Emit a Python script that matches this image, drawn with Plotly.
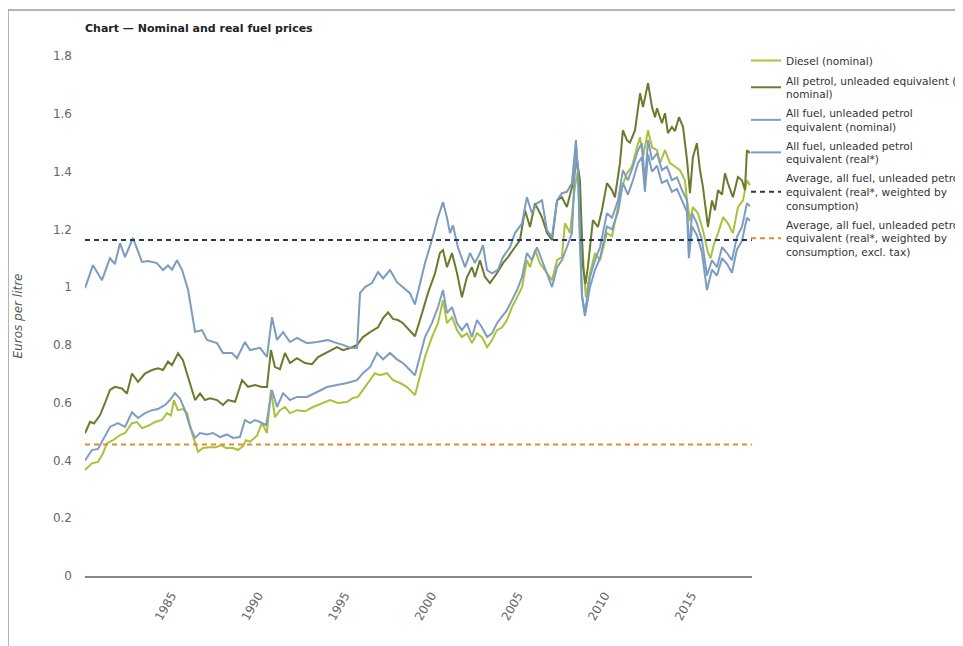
import plotly.graph_objects as go

# ---------------- data ----------------
diesel_years = [1980.00, 1980.40, 1980.75, 1981.04, 1981.27, 1981.62, 1982.02, 1982.31, 1982.71, 1983.00,
                1983.29, 1983.64, 1984.04, 1984.44, 1984.73, 1984.96, 1985.13, 1985.36, 1985.65, 1985.89,
                1986.17, 1986.52, 1986.81, 1987.15, 1987.56, 1987.85, 1988.14, 1988.54, 1988.83, 1989.12,
                1989.29, 1989.52, 1989.92, 1990.21, 1990.50, 1990.73, 1990.96, 1991.25, 1991.54, 1991.83,
                1992.23, 1992.69, 1993.16, 1993.68, 1994.14, 1994.60, 1995.12, 1995.46, 1995.75, 1996.04,
                1996.33, 1996.73, 1997.02, 1997.43, 1997.77, 1998.18, 1998.58, 1998.93, 1999.04, 1999.62,
                2000.02, 2000.37, 2000.66, 2000.89, 2001.18, 2001.47, 2001.75, 2002.04, 2002.33, 2002.62,
                2002.91, 2003.20, 2003.49, 2003.77, 2004.06, 2004.35, 2004.64, 2004.93, 2005.22, 2005.50,
                2005.68, 2005.97, 2006.25, 2006.66, 2006.95, 2007.24, 2007.52, 2007.70, 2007.99, 2008.27,
                2008.45, 2008.62, 2008.90, 2009.14, 2009.43, 2009.72, 2010.12, 2010.41, 2010.70, 2010.99,
                2011.27, 2011.56, 2011.85, 2012.03, 2012.20, 2012.49, 2012.72, 2013.01, 2013.18, 2013.47,
                2013.76, 2014.04, 2014.33, 2014.62, 2014.74, 2014.91, 2015.08, 2015.37, 2015.66, 2015.95,
                2016.10, 2016.30, 2016.53, 2016.82, 2017.10, 2017.39, 2017.68, 2017.97, 2018.20, 2018.37]
diesel_values = [0.367, 0.390, 0.395, 0.425, 0.460, 0.470, 0.488, 0.495, 0.529, 0.533,
                 0.512, 0.520, 0.533, 0.540, 0.564, 0.556, 0.609, 0.574, 0.578, 0.564,
                 0.495, 0.430, 0.443, 0.446, 0.446, 0.453, 0.443, 0.443, 0.436, 0.450,
                 0.470, 0.465, 0.485, 0.529, 0.495, 0.644, 0.550, 0.574, 0.585, 0.564,
                 0.574, 0.570, 0.585, 0.599, 0.609, 0.599, 0.602, 0.616, 0.620, 0.644,
                 0.668, 0.702, 0.695, 0.702, 0.678, 0.668, 0.654, 0.633, 0.626, 0.758,
                 0.827, 0.875, 0.955, 0.875, 0.896, 0.851, 0.827, 0.840, 0.806, 0.840,
                 0.827, 0.792, 0.817, 0.851, 0.860, 0.886, 0.931, 0.965, 1.000, 1.093,
                 1.069, 1.128, 1.083, 1.048, 1.024, 1.093, 1.104, 1.221, 1.187, 1.346,
                 1.405, 1.208, 0.965, 1.048, 1.118, 1.093, 1.187, 1.176, 1.256, 1.346,
                 1.394, 1.417, 1.484, 1.519, 1.450, 1.543, 1.484, 1.474, 1.429, 1.474,
                 1.429, 1.417, 1.405, 1.370, 1.300, 1.230, 1.277, 1.256, 1.197, 1.120,
                 1.100, 1.150, 1.187, 1.242, 1.221, 1.187, 1.277, 1.300, 1.370, 1.353]

petrol_years = [1980.00, 1980.29, 1980.52, 1980.87, 1981.15, 1981.44, 1981.73, 1982.13, 1982.42, 1982.71,
                1983.06, 1983.46, 1983.87, 1984.21, 1984.50, 1984.79, 1985.02, 1985.37, 1985.65, 1985.94,
                1986.35, 1986.64, 1986.92, 1987.21, 1987.62, 1987.96, 1988.25, 1988.66, 1989.06, 1989.41,
                1989.81, 1990.21, 1990.50, 1990.73, 1990.96, 1991.25, 1991.54, 1991.83, 1992.23, 1992.69,
                1993.10, 1993.45, 1993.97, 1994.54, 1994.89, 1995.29, 1995.70, 1996.04, 1996.45, 1996.91,
                1997.20, 1997.49, 1997.77, 1998.06, 1998.35, 1998.75, 1999.04, 1999.45, 1999.79, 2000.20,
                2000.48, 2000.66, 2000.89, 2001.18, 2001.47, 2001.75, 2002.04, 2002.33, 2002.50, 2002.79,
                2003.08, 2003.37, 2003.77, 2004.12, 2004.41, 2004.81, 2005.10, 2005.39, 2005.68, 2005.97,
                2006.37, 2006.66, 2006.95, 2007.24, 2007.52, 2007.81, 2008.10, 2008.39, 2008.56, 2008.74,
                2008.88, 2009.02, 2009.14, 2009.31, 2009.60, 2009.83, 2010.12, 2010.41, 2010.58, 2010.87,
                2011.04, 2011.27, 2011.45, 2011.74, 2012.03, 2012.20, 2012.49, 2012.72, 2012.89, 2013.01,
                2013.29, 2013.47, 2013.64, 2013.87, 2014.04, 2014.28, 2014.51, 2014.74, 2014.91, 2015.08,
                2015.31, 2015.49, 2015.66, 2015.95, 2016.18, 2016.35, 2016.53, 2016.76, 2016.93, 2017.10,
                2017.39, 2017.68, 2017.91, 2018.08, 2018.20, 2018.37]
petrol_values = [0.494, 0.534, 0.528, 0.557, 0.598, 0.644, 0.655, 0.649, 0.632, 0.701,
                 0.672, 0.701, 0.713, 0.719, 0.713, 0.742, 0.730, 0.771, 0.747, 0.690,
                 0.609, 0.632, 0.609, 0.615, 0.609, 0.592, 0.609, 0.603, 0.678, 0.655,
                 0.661, 0.654, 0.654, 0.782, 0.723, 0.716, 0.772, 0.737, 0.754, 0.737,
                 0.733, 0.758, 0.775, 0.792, 0.782, 0.789, 0.800, 0.827, 0.844, 0.861,
                 0.893, 0.913, 0.890, 0.886, 0.875, 0.851, 0.830, 0.910, 0.979, 1.048,
                 1.118, 1.128, 1.069, 1.118, 1.048, 0.965, 1.035, 1.069, 1.035, 1.093,
                 1.035, 1.014, 1.048, 1.083, 1.104, 1.138, 1.163, 1.266, 1.208, 1.290,
                 1.242, 1.187, 1.163, 1.300, 1.311, 1.277, 1.346, 1.440, 1.370, 1.069,
                 1.010, 1.070, 1.138, 1.232, 1.208, 1.266, 1.360, 1.336, 1.311, 1.429,
                 1.543, 1.509, 1.500, 1.543, 1.671, 1.623, 1.706, 1.623, 1.588, 1.619,
                 1.567, 1.602, 1.533, 1.554, 1.540, 1.588, 1.554, 1.440, 1.325, 1.450,
                 1.498, 1.405, 1.346, 1.208, 1.300, 1.266, 1.336, 1.320, 1.394, 1.360,
                 1.311, 1.381, 1.370, 1.336, 1.474, 1.464]

fuel_nominal_years = [1980.00, 1980.40, 1980.75, 1981.04, 1981.44, 1981.90, 1982.31, 1982.71, 1983.06, 1983.46,
                      1983.87, 1984.21, 1984.62, 1984.90, 1985.19, 1985.48, 1985.77, 1986.06, 1986.35, 1986.64,
                      1987.04, 1987.39, 1987.79, 1988.19, 1988.54, 1988.94, 1989.23, 1989.52, 1989.81, 1990.10,
                      1990.45, 1990.79, 1991.08, 1991.43, 1991.83, 1992.23, 1992.81, 1993.39, 1993.97, 1994.54,
                      1995.12, 1995.70, 1996.04, 1996.45, 1996.85, 1997.20, 1997.60, 1998.00, 1998.35, 1998.75,
                      1999.04, 1999.62, 2000.02, 2000.37, 2000.66, 2000.89, 2001.18, 2001.47, 2001.75, 2002.04,
                      2002.33, 2002.62, 2002.91, 2003.20, 2003.49, 2003.77, 2004.06, 2004.35, 2004.64, 2004.93,
                      2005.22, 2005.50, 2005.79, 2006.08, 2006.37, 2006.66, 2006.95, 2007.24, 2007.52, 2007.81,
                      2008.10, 2008.33, 2008.45, 2008.56, 2008.68, 2008.85, 2009.14, 2009.43, 2009.72, 2010.12,
                      2010.41, 2010.76, 2011.04, 2011.33, 2011.62, 2011.91, 2012.14, 2012.31, 2012.49, 2012.72,
                      2013.01, 2013.29, 2013.58, 2013.87, 2014.16, 2014.45, 2014.74, 2014.85, 2015.03, 2015.31,
                      2015.60, 2015.89, 2016.18, 2016.47, 2016.76, 2017.05, 2017.33, 2017.62, 2017.91, 2018.20,
                      2018.37]
fuel_nominal_values = [0.400, 0.436, 0.440, 0.470, 0.516, 0.529, 0.516, 0.567, 0.547, 0.564,
                       0.574, 0.578, 0.592, 0.609, 0.633, 0.614, 0.574, 0.516, 0.478, 0.495,
                       0.490, 0.495, 0.481, 0.490, 0.478, 0.481, 0.540, 0.529, 0.540, 0.533,
                       0.522, 0.644, 0.585, 0.633, 0.609, 0.620, 0.620, 0.637, 0.654, 0.661,
                       0.668, 0.678, 0.702, 0.723, 0.772, 0.750, 0.772, 0.750, 0.737, 0.713,
                       0.695, 0.827, 0.875, 0.931, 0.990, 0.910, 0.931, 0.875, 0.851, 0.875,
                       0.827, 0.886, 0.860, 0.827, 0.840, 0.875, 0.896, 0.920, 0.955, 0.990,
                       1.035, 1.118, 1.093, 1.138, 1.093, 1.048, 1.000, 1.069, 1.093, 1.138,
                       1.187, 1.490, 1.400, 1.150, 0.970, 0.910, 1.035, 1.093, 1.138, 1.256,
                       1.240, 1.300, 1.405, 1.370, 1.417, 1.474, 1.498, 1.360, 1.509, 1.440,
                       1.464, 1.405, 1.417, 1.370, 1.380, 1.336, 1.300, 1.118, 1.256, 1.221,
                       1.163, 1.040, 1.093, 1.069, 1.138, 1.118, 1.093, 1.173, 1.208, 1.290,
                       1.280]

fuel_real_years = [1980.00, 1980.46, 1980.98, 1981.44, 1981.73, 1982.02, 1982.31, 1982.77, 1983.29, 1983.64,
                   1984.15, 1984.50, 1984.79, 1985.02, 1985.31, 1985.60, 1985.95, 1986.15, 1986.35, 1986.75,
                   1987.04, 1987.62, 1987.96, 1988.48, 1988.77, 1989.23, 1989.52, 1990.10, 1990.50, 1990.79,
                   1991.08, 1991.43, 1991.83, 1992.23, 1992.81, 1993.39, 1994.02, 1994.54, 1994.89, 1995.29,
                   1995.70, 1995.87, 1996.16, 1996.56, 1996.91, 1997.20, 1997.60, 1998.00, 1998.35, 1998.75,
                   1999.04, 1999.30, 1999.62, 2000.02, 2000.37, 2000.66, 2000.89, 2001.06, 2001.23, 2001.52,
                   2001.93, 2002.22, 2002.50, 2002.79, 2002.97, 2003.20, 2003.49, 2003.83, 2004.12, 2004.52,
                   2004.81, 2005.22, 2005.50, 2005.79, 2006.08, 2006.37, 2006.66, 2006.95, 2007.24, 2007.52,
                   2007.81, 2008.10, 2008.33, 2008.45, 2008.56, 2008.68, 2008.85, 2009.14, 2009.43, 2009.72,
                   2010.12, 2010.41, 2010.76, 2011.04, 2011.33, 2011.62, 2011.91, 2012.14, 2012.31, 2012.49,
                   2012.72, 2013.01, 2013.29, 2013.58, 2013.87, 2014.16, 2014.45, 2014.74, 2014.85, 2015.03,
                   2015.31, 2015.60, 2015.89, 2016.18, 2016.47, 2016.76, 2017.05, 2017.33, 2017.62, 2017.91,
                   2018.20, 2018.37]
fuel_real_values = [0.996, 1.076, 1.024, 1.100, 1.080, 1.152, 1.104, 1.170, 1.087, 1.090,
                    1.083, 1.059, 1.075, 1.060, 1.093, 1.060, 0.990, 0.920, 0.845, 0.851,
                    0.817, 0.806, 0.772, 0.772, 0.754, 0.810, 0.782, 0.790, 0.758, 0.896,
                    0.817, 0.844, 0.810, 0.824, 0.806, 0.810, 0.817, 0.806, 0.800, 0.790,
                    0.789, 0.979, 1.000, 1.014, 1.052, 1.030, 1.059, 1.017, 1.000, 0.979,
                    0.940, 1.000, 1.083, 1.163, 1.242, 1.294, 1.240, 1.187, 1.214, 1.138,
                    1.069, 1.118, 1.083, 1.118, 1.145, 1.059, 1.048, 1.060, 1.104, 1.138,
                    1.187, 1.221, 1.311, 1.256, 1.290, 1.300, 1.197, 1.173, 1.300, 1.325,
                    1.330, 1.360, 1.509, 1.400, 1.150, 0.970, 0.900, 1.000, 1.060, 1.100,
                    1.210, 1.200, 1.260, 1.360, 1.320, 1.370, 1.430, 1.450, 1.330, 1.460,
                    1.400, 1.420, 1.360, 1.370, 1.330, 1.340, 1.300, 1.260, 1.100, 1.210,
                    1.180, 1.120, 0.990, 1.060, 1.040, 1.100, 1.080, 1.050, 1.130, 1.160,
                    1.240, 1.230]

avg_years = [1980.0, 2018.49]
avg_real_weighted = [1.163, 1.163]
avg_real_excl_tax = [0.455, 0.455]

x_tick_values = [1985, 1990, 1995, 2000, 2005, 2010, 2015]
x_tick_labels = ["1985", "1990", "1995", "2000", "2005", "2010", "2015"]
y_tick_values = [0, 0.2, 0.4, 0.6, 0.8, 1.0, 1.2, 1.4, 1.6, 1.8]
y_tick_labels = ["0", "0.2", "0.4", "0.6", "0.8", "1", "1.2", "1.4", "1.6", "1.8"]

names = [
    "Diesel (nominal)",
    "All petrol, unleaded equivalent (<br>nominal)",
    "All fuel, unleaded petrol<br>equivalent (nominal)",
    "All fuel, unleaded petrol<br>equivalent (real*)",
    "Average, all fuel, unleaded petrol<br>equivalent (real*, weighted by<br>consumption)",
    "Average, all fuel, unleaded petrol<br>equivalent (real*, weighted by<br>consumption, excl. tax)",
]

FONT = "DejaVu Sans"
# the page body has an 8px default margin; figure is laid out to compensate
W, H = 955, 638
PL, PR, PT, PB = 77, 744, 48, 568   # plot area in figure pixels

fig = go.Figure()
fig.add_trace(go.Scatter(x=diesel_years, y=diesel_values, mode="lines", name=names[0], legendgroup="a",
                         line=dict(color="#a9c23a", width=2)))
fig.add_trace(go.Scatter(x=petrol_years, y=petrol_values, mode="lines", name=names[1], legendgroup="b",
                         line=dict(color="#6b7a2c", width=2)))
fig.add_trace(go.Scatter(x=fuel_nominal_years, y=fuel_nominal_values, mode="lines", name=names[2], legendgroup="c",
                         line=dict(color="#7f9dbf", width=2)))
fig.add_trace(go.Scatter(x=fuel_real_years, y=fuel_real_values, mode="lines", name=names[3], legendgroup="d",
                         line=dict(color="#7a9cbf", width=2)))
fig.add_trace(go.Scatter(x=avg_years, y=avg_real_weighted, mode="lines", name=names[4], legendgroup="e",
                         line=dict(color="#1d3a63", width=2, dash="5px,4px")))
fig.add_trace(go.Scatter(x=avg_years, y=avg_real_excl_tax, mode="lines", name=names[5], legendgroup="f",
                         line=dict(color="#e68c2a", width=2, dash="5px,4px")))

fig.update_layout(
    width=W, height=H,
    margin=dict(l=PL, r=W - PR, t=PT, b=H - PB, autoexpand=False),
    paper_bgcolor="white", plot_bgcolor="white",
    font=dict(family=FONT, size=11, color="#555"),
    title=dict(text="<b>Chart — Nominal and real fuel prices</b>",
               x=PL / W, xref="container", xanchor="left",
               y=1 - 20 / H, yref="container", yanchor="middle",
               font=dict(family=FONT, size=11, color="#222")),
    showlegend=True,
    legend=dict(xref="container", yref="container", x=738 / W, y=1 - 38 / H,
                xanchor="left", yanchor="top", bgcolor="rgba(0,0,0,0)",
                font=dict(family=FONT, size=10.6, color="#333"),
                tracegroupgap=2, itemwidth=30, traceorder="grouped"),
    shapes=[dict(type="rect", xref="paper", yref="paper",
                 x0=(0 - PL) / (PR - PL), x1=1.5, y0=-0.3, y1=(PB - 2) / (PB - PT),
                 line=dict(color="#9a9a9a", width=1.5), layer="below")],
)
fig.update_xaxes(range=[1980.0, 2018.49], tickvals=x_tick_values, ticktext=x_tick_labels,
                 tickangle=-60, showgrid=False, zeroline=False, showline=True,
                 linecolor="#888", linewidth=1.5, ticks="", ticklabelstandoff=6,
                 tickfont=dict(family=FONT, size=12, color="#666"))
fig.update_yaxes(range=[0, 1.8], tickvals=y_tick_values, ticktext=y_tick_labels,
                 showgrid=False, zeroline=False, showline=False, ticks="",
                 ticklabelstandoff=12,
                 tickfont=dict(family=FONT, size=12, color="#666"),
                 title=dict(text="<i>Euros per litre</i>", standoff=27,
                            font=dict(family=FONT, size=12, color="#555")))

fig.write_html("out.html")
